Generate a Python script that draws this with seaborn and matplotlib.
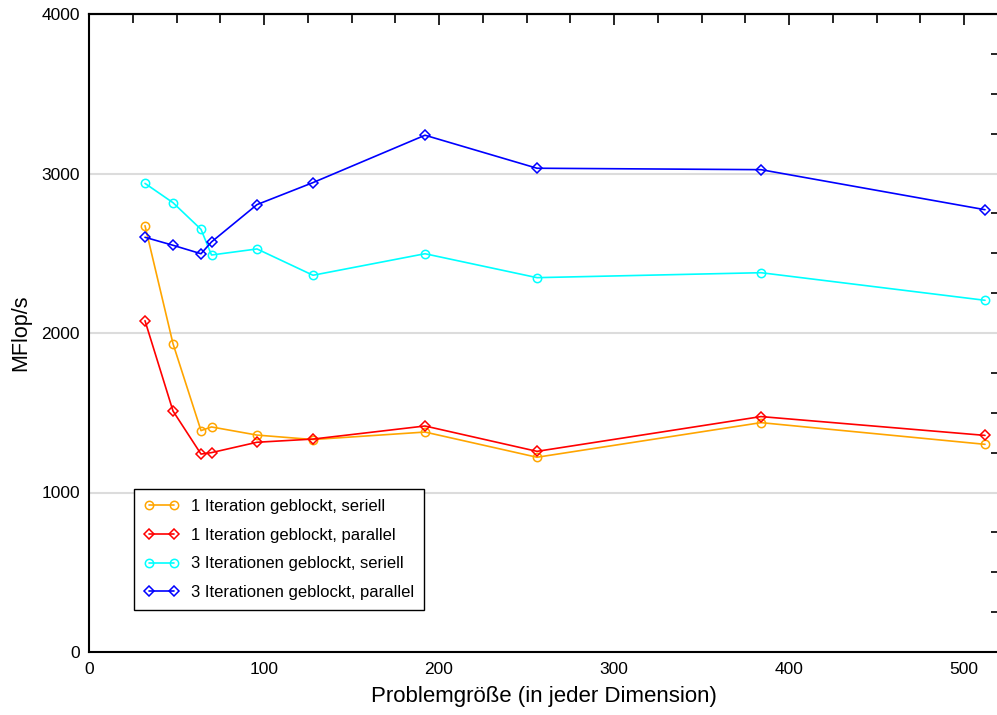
import pandas as pd
import matplotlib
matplotlib.use('Agg')
import matplotlib.pyplot as plt
import seaborn as sns
from matplotlib.ticker import MultipleLocator, NullFormatter

# Problemgröße (x) und MFlop/s je Variante
size = [32, 48, 64, 70, 96, 128, 192, 256, 384, 512]
it1_seriell = [2673, 1933, 1388, 1411, 1360, 1332, 1379, 1221, 1438, 1302]
it1_parallel = [2077, 1511, 1241, 1250, 1315, 1335, 1417, 1258, 1476, 1358]
it3_seriell = [2938, 2817, 2650, 2489, 2527, 2362, 2497, 2347, 2378, 2205]
it3_parallel = [2600, 2550, 2497, 2571, 2805, 2943, 3240, 3033, 3024, 2773]

labels = ['1 Iteration geblockt, seriell', '1 Iteration geblockt, parallel',
          '3 Iterationen geblockt, seriell', '3 Iterationen geblockt, parallel']
colors = ['#FFA500', '#FF0000', '#00FFFF', '#0000FF']
markers = ['o', 'D', 'o', 'D']

sns.set_style('white')
plt.rcParams['font.family'] = ['Liberation Sans', 'DejaVu Sans']
plt.rcParams['text.color'] = 'black'
plt.rcParams['axes.labelcolor'] = 'black'
plt.rcParams['xtick.color'] = 'black'
plt.rcParams['ytick.color'] = 'black'

fig = plt.figure(figsize=(9.97, 7.15), dpi=100)
ax = fig.add_axes([89 / 997, 1 - 652 / 715, 910 / 997, 638 / 715])

for vals, lab, col, mk in zip([it1_seriell, it1_parallel, it3_seriell, it3_parallel], labels, colors, markers):
    df = pd.DataFrame({'x': size, 'y': vals})
    sns.lineplot(data=df, x='x', y='y', ax=ax, color=col, label=lab, lw=1.2,
                 marker=mk, ms=6 if mk == 'o' else 5, mfc='none', mec=col, mew=1.1)

ax.set_xlim(0, 520)
ax.set_ylim(0, 4000)
ax.xaxis.set_major_locator(MultipleLocator(100))
ax.xaxis.set_minor_locator(MultipleLocator(25))
ax.yaxis.set_major_locator(MultipleLocator(1000))
ax.yaxis.set_minor_locator(MultipleLocator(250))
ax.tick_params(which='both', direction='in', right=True, labelsize=12.5, color='black', width=1.2)
ax.tick_params(axis='x', which='major', length=13, pad=7)
ax.tick_params(axis='x', which='minor', length=6.5)
ax.tick_params(axis='y', which='major', length=0, pad=6.5)
ax.tick_params(axis='y', which='minor', length=6)
ax.grid(axis='y', which='major', color='#dcdcdc', lw=1.5)
for s in ax.spines.values():
    s.set_color('black')
    s.set_linewidth(1.5)

# obere Achse: kürzere Striche, keine Beschriftung
top = ax.secondary_xaxis('top')
top.xaxis.set_major_locator(MultipleLocator(100))
top.xaxis.set_minor_locator(MultipleLocator(25))
top.xaxis.set_major_formatter(NullFormatter())
top.tick_params(which='both', direction='in', color='black', width=1.2)
top.tick_params(which='major', length=8)
top.tick_params(which='minor', length=6.5)
top.spines['top'].set_linewidth(1.5)

ax.set_xlabel('Problemgröße (in jeder Dimension)', fontsize=16, labelpad=7)
ax.set_ylabel('MFlop/s', fontsize=15.5, labelpad=7)

leg = ax.legend(loc='lower left', bbox_to_anchor=(45 / 910, 42 / 638), borderaxespad=0,
                fontsize=12, numpoints=2, handlelength=2.1, handletextpad=0.7,
                fancybox=False, framealpha=1, edgecolor='black', labelspacing=0.82,
                borderpad=0.6)
leg.get_frame().set_linewidth(1.0)

fig.savefig('out.png', dpi=100)
